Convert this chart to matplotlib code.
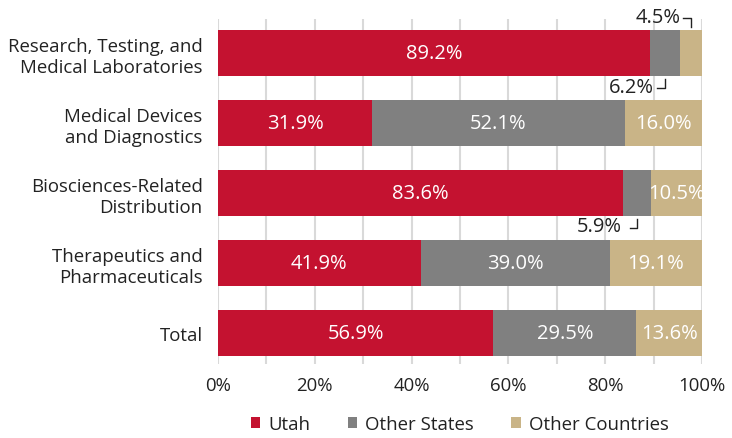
import matplotlib.pyplot as plt
import numpy as np

categories = ['Research, Testing, and\nMedical Laboratories',
              'Medical Devices\nand Diagnostics',
              'Biosciences-Related\nDistribution',
              'Therapeutics and\nPharmaceuticals',
              'Total']
utah = [89.2, 31.9, 83.6, 41.9, 56.9]
other_states = [6.2, 52.1, 5.9, 39.0, 29.5]
other_countries = [4.5, 16.0, 10.5, 19.1, 13.6]
series_names = ['Utah', 'Other States', 'Other Countries']
colors = ['#C41230', '#808080', '#C9B487']

plt.rcParams['font.family'] = ['Open Sans', 'DejaVu Sans']
FS = 14.5    # bar labels
FS2 = 13.4   # axis labels / legend
TXT = '#222222'

fig = plt.figure(figsize=(7.32, 4.39), dpi=100)
ax = fig.add_axes([0.2978, 0.1686, 0.6612, 0.7858])

y = np.arange(len(categories))
h = 0.66
left = np.zeros(len(categories))
for vals, name, c in zip([utah, other_states, other_countries], series_names, colors):
    ax.barh(y, vals, left=left, height=h, color=c, label=name, zorder=2)
    # labels inside the wider segments
    for i, v in enumerate(vals):
        if v >= 10:
            ax.text(left[i] + v / 2, y[i], f'{v:.1f}%', ha='center', va='center',
                    color='white', fontsize=FS, zorder=3)
    left = left + np.array(vals)


# small segments labelled outside with bracket lines
def bracket(row, xmid, above, label, text_right):
    s = -1 if above else 1
    y0 = row + s * 0.37
    y1 = row + s * 0.50
    ax.plot([xmid, xmid, xmid - 1.5], [y0, y1, y1], color=TXT, lw=1, zorder=3,
            clip_on=False)
    ax.text(text_right, y1 - 0.02, label, ha='right', va='center',
            fontsize=FS, color=TXT, clip_on=False)


mid = utah[0] + other_states[0] + other_countries[0] / 2
bracket(0, mid, True, f'{other_countries[0]:.1f}%', mid - 2.0)
mid = utah[0] + other_states[0] / 2
bracket(0, mid, False, f'{other_states[0]:.1f}%', mid - 2.3)
mid = utah[2] + other_states[2] / 2
bracket(2, mid, False, f'{other_states[2]:.1f}%', mid - 3.2)

ax.set_xlim(0, 100)
ax.set_ylim(4.45, -0.49)
ax.set_xticks(np.arange(0, 101, 10))
ax.set_xticklabels([f'{t}%' if t % 20 == 0 else '' for t in range(0, 101, 10)])
ax.set_yticks(y)
ax.set_yticklabels(categories, fontsize=FS2, color=TXT, ha='right',
                   multialignment='right', linespacing=1.2)
ax.tick_params(axis='x', length=0, labelsize=FS2, labelcolor=TXT, pad=9)
ax.tick_params(axis='y', length=0, pad=11)
ax.grid(axis='x', color='#D9D9D9', lw=1.5, zorder=0)
for sp in ax.spines.values():
    sp.set_visible(False)

fig.legend(loc='center', bbox_to_anchor=(0.628, 0.032), ncol=3, frameon=False,
           fontsize=FS2, handlelength=0.5, handleheight=0.5, handletextpad=0.45,
           columnspacing=2.0, labelcolor=TXT, borderpad=0)

fig.savefig('out.png', dpi=100)
